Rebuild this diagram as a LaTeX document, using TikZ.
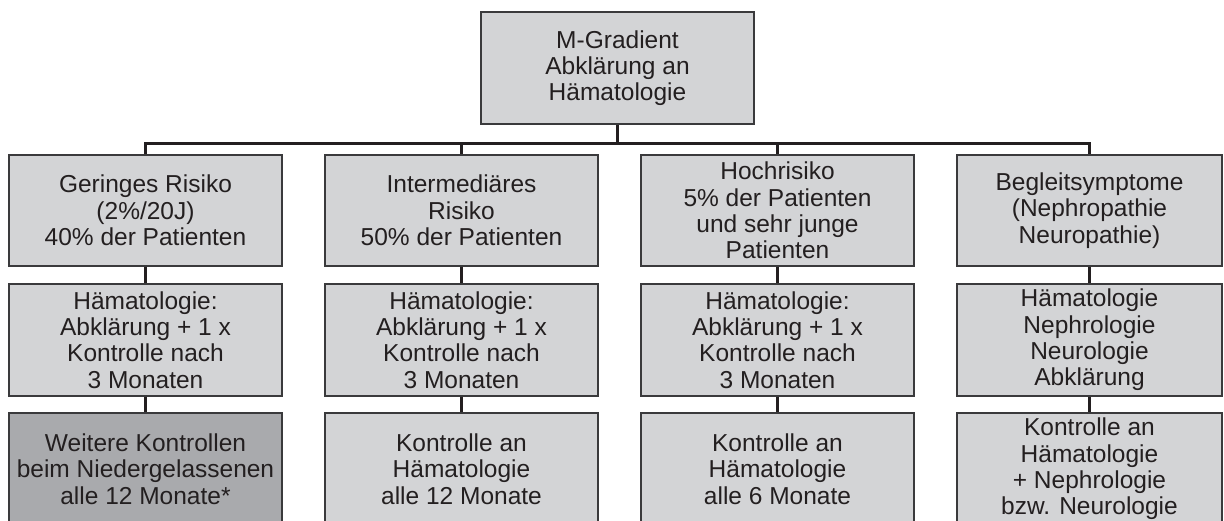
\documentclass[tikz,border=0pt]{standalone}
\usepackage{fontspec}
\setmainfont{Liberation Sans}
\definecolor{boxfill}{HTML}{D3D4D6}
\definecolor{boxdark}{HTML}{A9AAAD}
\definecolor{edge}{HTML}{3A3A3C}
\definecolor{ink}{HTML}{231F20}
\tikzset{
  stepbox/.style={draw=edge, line width=1.3pt, fill=boxfill, text=ink,
    minimum width=273pt, inner sep=0pt, align=center,
    font=\fontsize{24.5}{26.3}\selectfont},
  darkbox/.style={stepbox, fill=boxdark},
  link/.style={draw=ink, line width=2.5pt},
}
\begin{document}
\begin{tikzpicture}[x=1pt, y=-1pt]
\useasboundingbox (0,0) rectangle (1224,520);
\clip (0,0) rectangle (1224,520);

% root
\node[stepbox, minimum height=112pt] (top) at (617.5,68) {M-Gradient\\Abklärung an\\Hämatologie};

% risk groups
\node[stepbox, minimum height=111pt] (a1) at (145.5,210.5) {Geringes Risiko\\(2\%/20J)\\40\% der Patienten};
\node[stepbox, minimum height=111pt] (b1) at (461.5,210.5) {Intermediäres\\Risiko\\50\% der Patienten};
\node[stepbox, minimum height=111pt] (c1) at (777.5,210.5) {Hochrisiko\\5\% der Patienten\\und sehr junge\\Patienten};
\node[stepbox, minimum height=111pt, minimum width=265pt] (d1) at (1089.5,210.5) {Begleitsymptome\\(Nephropathie\\Neuropathie)};

% work-up
\node[stepbox, minimum height=112pt] (a2) at (145.5,340) {Hämatologie:\\Abklärung + 1 x\\Kontrolle nach\\3 Monaten};
\node[stepbox, minimum height=112pt] (b2) at (461.5,340) {Hämatologie:\\Abklärung + 1 x\\Kontrolle nach\\3 Monaten};
\node[stepbox, minimum height=112pt] (c2) at (777.5,340) {Hämatologie:\\Abklärung + 1 x\\Kontrolle nach\\3 Monaten};
\node[stepbox, minimum height=112pt, minimum width=265pt] (d2) at (1089.5,340) {Hämatologie\\Nephrologie\\Neurologie\\Abklärung};

% follow-up
\node[darkbox, minimum height=112pt] (a3) at (145.5,469) {Weitere Kontrollen\\beim Niedergelassenen\\alle 12 Monate*};
\node[stepbox, minimum height=112pt] (b3) at (461.5,469) {Kontrolle an\\Hämatologie\\alle 12 Monate};
\node[stepbox, minimum height=112pt] (c3) at (777.5,469) {Kontrolle an\\Hämatologie\\alle 6 Monate};
\node[stepbox, minimum height=112pt, minimum width=265pt] (d3) at (1089.5,469) {Kontrolle an\\Hämatologie\\+ Nephrologie\\bzw. Neurologie};

% branching bus
\path (top.south) ++(0,19) coordinate (bus);
\draw[link] (top.south) -- (bus);
\draw[link] (a1.north) -- (a1.north |- bus) -- (d1.north |- bus) -- (d1.north);
\draw[link] (b1.north) -- (b1.north |- bus);
\draw[link] (c1.north) -- (c1.north |- bus);

% columns
\foreach \c in {a,b,c,d}{
  \draw[link] (\c1.south) -- (\c2.north);
  \draw[link] (\c2.south) -- (\c3.north);
}
\end{tikzpicture}
\end{document}
